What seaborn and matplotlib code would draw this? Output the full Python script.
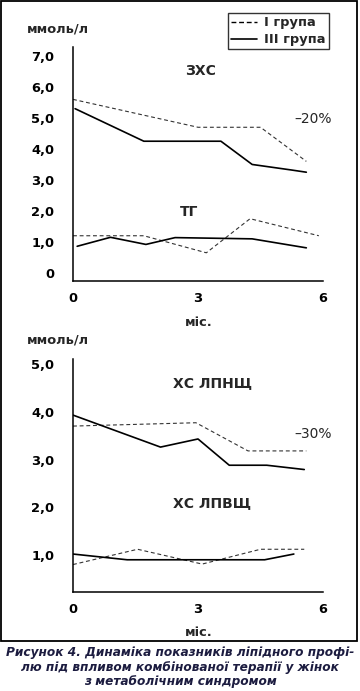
import matplotlib
matplotlib.use("Agg")
import matplotlib.pyplot as plt
from matplotlib.lines import Line2D
from matplotlib.patches import Rectangle
import seaborn as sns

# months on the x axis and mmol/l values
chol_m_g1 = [0, 3.0, 4.5, 5.6]
chol_g1 = [5.6, 4.7, 4.7, 3.6]
chol_m_g3 = [0.05, 1.7, 3.55, 4.3, 5.25, 5.6]
chol_g3 = [5.3, 4.25, 4.25, 3.5, 3.32, 3.25]

tg_m_g1 = [0, 1.7, 3.2, 4.25, 5.9]
tg_g1 = [1.2, 1.2, 0.65, 1.75, 1.2]
tg_m_g3 = [0.1, 0.9, 1.75, 2.45, 4.3, 5.6]
tg_g3 = [0.86, 1.15, 0.92, 1.14, 1.1, 0.81]

ldl_m_g1 = [0, 2.95, 4.2, 5.6]
ldl_g1 = [3.7, 3.77, 3.18, 3.18]
ldl_m_g3 = [0, 2.1, 3.0, 3.75, 4.65, 5.55]
ldl_g3 = [3.93, 3.26, 3.43, 2.88, 2.88, 2.79]

hdl_m_g1 = [0, 1.55, 3.1, 4.5, 5.55]
hdl_g1 = [0.8, 1.12, 0.81, 1.12, 1.12]
hdl_m_g3 = [0, 1.3, 4.6, 5.3]
hdl_g3 = [1.02, 0.9, 0.9, 1.02]

month_ticks = [0, 3, 6]
top_yticks = [0, 1, 2, 3, 4, 5, 6, 7]
top_ylabels = ["0", "1,0", "2,0", "3,0", "4,0", "5,0", "6,0", "7,0"]
bot_yticks = [1, 2, 3, 4, 5]
bot_ylabels = ["1,0", "2,0", "3,0", "4,0", "5,0"]

group_names = ["I група", "III група"]
caption = ("Рисунок 4. Динаміка показників ліпідного профі-\n"
           "лю під впливом комбінованої терапії у жінок\n"
           "з метаболічним синдромом")

sns.set_style("white")
plt.rcParams["font.family"] = ["DejaVu Sans"]
plt.rcParams["font.weight"] = "bold"

W, H = 360, 691
fig = plt.figure(figsize=(W / 100, H / 100), dpi=100)

DASH = (3.5, 2.5)
FS = 9.4


def draw_pair(ax, m1, v1, m3, v3):
    sns.lineplot(x=m1, y=v1, ax=ax, color="#333333", linewidth=0.8,
                 linestyle=(0, DASH), estimator=None, sort=False)
    sns.lineplot(x=m3, y=v3, ax=ax, color="black", linewidth=1.2,
                 estimator=None, sort=False)


def style_axes(ax, ylim, yticks, ylabels):
    ax.set_xlim(0, 6)
    ax.set_ylim(*ylim)
    ax.set_xticks(month_ticks)
    ax.set_xticklabels([str(t) for t in month_ticks], fontsize=FS, fontweight="bold")
    ax.set_yticks(yticks)
    ax.set_yticklabels(ylabels, fontsize=FS, fontweight="bold")
    ax.tick_params(axis="x", direction="in", length=9.4, width=1.0, pad=8, colors="black")
    ax.tick_params(axis="y", length=0, pad=13.5, colors="black")
    for s in ["top", "right"]:
        ax.spines[s].set_visible(False)
    for s in ["left", "bottom"]:
        ax.spines[s].set_color("black")
        ax.spines[s].set_linewidth(1.1)
    ax.set_xlabel("")
    ax.set_ylabel("")
    ax.grid(False)


# upper panel: total cholesterol and triglycerides
ax1 = fig.add_axes([73 / W, (H - 281) / H, 250 / W, 234 / H])
draw_pair(ax1, chol_m_g1, chol_g1, chol_m_g3, chol_g3)
draw_pair(ax1, tg_m_g1, tg_g1, tg_m_g3, tg_g3)
style_axes(ax1, (-0.26, 7.29), top_yticks, top_ylabels)
ax1.text(3.07, 6.5, "ЗХС", ha="center", va="center", fontsize=FS + 0.6, fontweight="bold")
ax1.text(2.78, 1.97, "ТГ", ha="center", va="center", fontsize=FS + 0.6, fontweight="bold")
ax1.text(5.76, 4.97, "–20%", ha="center", va="center", fontsize=FS + 0.6, fontweight="normal")

# lower panel: LDL and HDL cholesterol
ax2 = fig.add_axes([73 / W, (H - 592) / H, 250 / W, 233 / H])
draw_pair(ax2, ldl_m_g1, ldl_g1, ldl_m_g3, ldl_g3)
draw_pair(ax2, hdl_m_g1, hdl_g1, hdl_m_g3, hdl_g3)
style_axes(ax2, (0.225, 5.105), bot_yticks, bot_ylabels)
ax2.text(3.34, 4.6, "ХС ЛПНЩ", ha="center", va="center", fontsize=FS + 0.6, fontweight="bold")
ax2.text(5.76, 3.54, "–30%", ha="center", va="center", fontsize=FS + 0.6, fontweight="normal")
ax2.text(3.34, 2.09, "ХС ЛПВЩ", ha="center", va="center", fontsize=FS + 0.6, fontweight="bold")

for yy in [29, 340]:
    fig.text(58 / W, 1 - yy / H, "ммоль/л", ha="center", va="center", fontsize=FS, fontweight="bold")
for yy in [322, 632]:
    fig.text(199 / W, 1 - yy / H, "міс.", ha="center", va="center", fontsize=FS, fontweight="bold")

handles = [Line2D([], [], color="black", lw=1.0, linestyle=(0, (3.5, 2))),
           Line2D([], [], color="black", lw=1.2)]
leg = fig.legend(handles, group_names, loc="upper right",
                 bbox_to_anchor=(329 / W, 1 - 13 / H), frameon=True, fancybox=False,
                 prop={"size": FS, "weight": "bold"}, handlelength=2.0,
                 handletextpad=0.55, labelspacing=0.3, borderpad=0.25, borderaxespad=0)
leg.get_frame().set_edgecolor("black")
leg.get_frame().set_linewidth(1.0)

fig.patches.append(Rectangle((1 / W, (H - 641) / H), 356 / W, 640 / H,
                             transform=fig.transFigure, fill=False,
                             edgecolor="black", linewidth=1.3))

fig.text(0.5, 1 - 667 / H, caption, ha="center", va="center", fontsize=8.7,
         fontweight="bold", fontstyle="italic", color="#1c1c40", linespacing=1.15)

fig.savefig("out.png", dpi=100)
